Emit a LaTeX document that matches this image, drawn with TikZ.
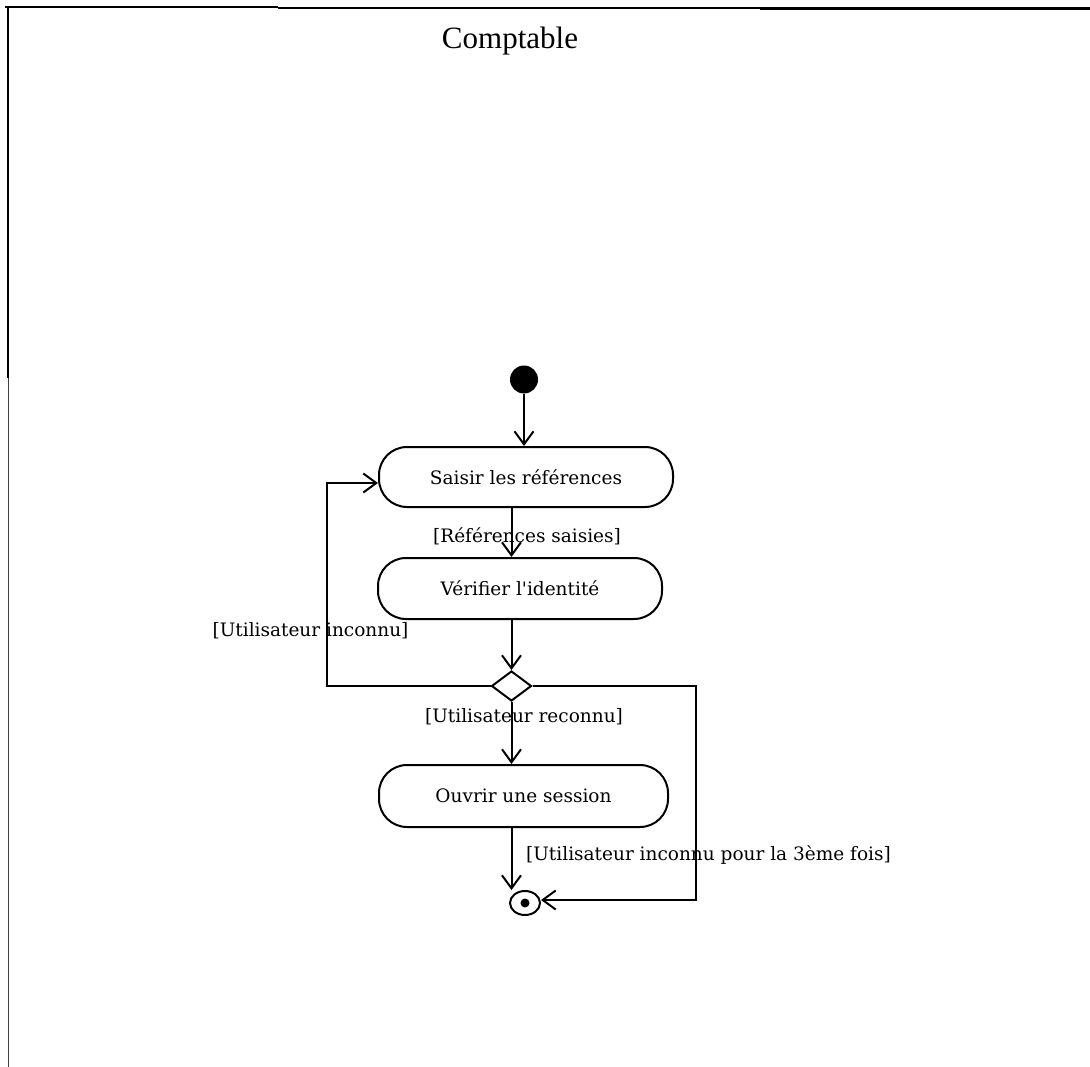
\documentclass[tikz,border=0pt]{standalone}
\usepackage{fontspec}
\newfontfamily\lab{DejaVu Serif}
\newfontfamily\ttl{Liberation Serif}
\usetikzlibrary{shapes.geometric,arrows.meta}
\begin{document}
\begin{tikzpicture}[x=1pt,y=-1pt,
 act/.style={draw,line width=2pt,rounded corners=28pt,inner sep=0pt,font=\lab\fontsize{18.5}{20}\selectfont},
 arr/.style={line width=2pt,-{Straight Barb[length=13pt,width=19pt,line width=2pt]}},
 guard/.style={font=\lab\fontsize{18.5}{20}\selectfont,inner sep=0pt,anchor=base}]
\useasboundingbox (0,0) rectangle (1090,1067);
\fill[white] (0,0) rectangle (1090,1067);
% frame
\draw[line width=2.5pt] (5,7) -- (278,7);
\draw[line width=1.5pt] (278,8) -- (760,8);
\draw[line width=2.5pt] (760,8.5) -- (1090,8.5);
\draw[line width=2.5pt] (8,7) -- (8,378);
\draw[line width=1.4pt, black!75] (8.5,378) -- (8.5,1067);
% title
\node[font=\ttl\fontsize{31}{34}\selectfont, anchor=base, inner sep=0pt] (title) at (510,49) {Comptable};
% nodes
\node[circle,fill,minimum size=28pt,inner sep=0pt] (start) at (524,379.5) {};
\node[act,minimum width=294pt,minimum height=60pt] (n1) at (526,477) {Saisir les références};
\node[act,minimum width=284pt,minimum height=61pt] (n2) at (520,588.5) {Vérifier l\textquotesingle identité};
\node[diamond,draw,line width=2pt,minimum width=40pt,minimum height=30pt,inner sep=0pt] (dia) at (511.5,686) {};
\node[act,minimum width=289pt,minimum height=62pt] (n3) at (523.5,796) {Ouvrir une session};
\node[ellipse,draw,line width=2pt,minimum width=30pt,minimum height=24pt,inner sep=0pt] (end) at (525,903) {};
\node[circle,fill,minimum size=9pt,inner sep=0pt] (endc) at (end.center) {};
% guards
\node[guard] (g1) at (527,542) {[Références saisies]};
\node[guard] (g2) at (310.5,636) {[Utilisateur inconnu]};
\node[guard] (g3) at (524,722) {[Utilisateur reconnu]};
\node[guard] (g4) at (708.5,860) {[Utilisateur inconnu pour la 3ème fois]};
% connectors
\draw[arr] (start.south) -- (start.south |- n1.north);
\draw[arr] (n1.south -| dia.north) -- (n2.north -| dia.north);
\draw[arr] (n2.south -| dia.north) -- (dia.north);
\draw[arr] (dia.south) -- (n3.north -| dia.south);
\draw[arr] (n3.south -| dia.south) -- (end.north -| dia.south);
\draw[arr] (dia.west) -- ++(-163.5,0) |- ([yshift=-6pt]n1.west);
\draw[arr] (dia.east) -- ++(163.5,0) |- ([yshift=3pt]end.east);
\end{tikzpicture}
\end{document}
